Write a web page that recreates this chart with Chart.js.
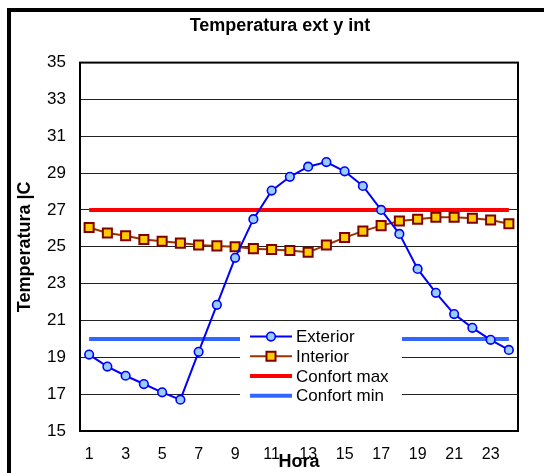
<!DOCTYPE html>
<html>
<head>
<meta charset="utf-8">
<script src="https://cdn.jsdelivr.net/npm/chart.js@4"></script>
<style>
  body { margin: 0; background: #fff; }
  #wrap { width: 544px; height: 473px; position: relative; }
</style>
</head>
<body>
<div id="wrap"><canvas id="myChart"></canvas></div>
<script>

const hours = ['1','2','3','4','5','6','7','8','9','10','11','12','13','14','15','16','17','18','19','20','21','22','23','24'];

const exterior = [19.15, 18.5, 18.0, 17.55, 17.1, 16.7, 19.3, 21.85, 24.4, 26.5, 28.05, 28.8,
                  29.35, 29.6, 29.1, 28.3, 27.0, 25.7, 23.8, 22.5, 21.35, 20.6, 19.95, 19.4];

const interior = [26.05, 25.75, 25.6, 25.4, 25.3, 25.2, 25.1, 25.05, 25.0, 24.9, 24.85, 24.8,
                  24.7, 25.1, 25.5, 25.85, 26.15, 26.4, 26.5, 26.6, 26.6, 26.55, 26.45, 26.25];

const confortMax = [27, 27, 27, 27, 27, 27, 27, 27, 27, 27, 27, 27,
                    27, 27, 27, 27, 27, 27, 27, 27, 27, 27, 27, 27];

const confortMin = [20, 20, 20, 20, 20, 20, 20, 20, 20, 20, 20, 20,
                    20, 20, 20, 20, 20, 20, 20, 20, 20, 20, 20, 20];

const FONT = "'Liberation Sans', Arial, sans-serif";


// outer frame + plot box
const framePlugin = {
  id: 'frame',
  beforeDraw(chart) {
    const ctx = chart.ctx;
    ctx.save();
    ctx.fillStyle = '#fff';
    ctx.fillRect(0, 0, chart.width, chart.height);
    ctx.strokeStyle = '#000';
    ctx.lineWidth = 4;
    ctx.strokeRect(9, 10, chart.width + 20, chart.height + 20);
    ctx.restore();
  },
  afterDraw(chart) {
    const a = chart.chartArea;
    const ctx = chart.ctx;
    ctx.save();
    ctx.strokeStyle = '#000';
    ctx.lineWidth = 2;
    ctx.strokeRect(a.left, a.top, a.right - a.left, a.bottom - a.top);
    ctx.restore();
  }
};


// legend sitting inside the plot, white box over the grid
const boxLegend = {
  id: 'boxLegend',
  afterDatasetsDraw(chart) {
    const ctx = chart.ctx;
    const a = chart.chartArea;
    const x0 = a.left + 160, y0 = a.top + 262;
    ctx.save();
    ctx.fillStyle = '#fff';
    ctx.fillRect(x0, y0, 162, 82);

    chart.data.datasets.forEach((ds, i) => {
      const y = y0 + 12 + i * 19.7;
      const lx1 = x0 + 10, lx2 = x0 + 52;
      const cx = (lx1 + lx2) / 2;
      ctx.strokeStyle = ds.borderColor;
      ctx.lineWidth = ds.borderWidth;
      ctx.beginPath();
      ctx.moveTo(lx1, y);
      ctx.lineTo(lx2, y);
      ctx.stroke();
      if (ds.pointRadius > 0) {
        ctx.fillStyle = ds.pointBackgroundColor;
        ctx.strokeStyle = ds.pointBorderColor;
        ctx.lineWidth = ds.pointBorderWidth;
        ctx.beginPath();
        if (ds.pointStyle === 'rect') {
          const s = ds.pointRadius * Math.SQRT1_2;
          ctx.rect(cx - s, y - s, 2 * s, 2 * s);
        } else {
          ctx.arc(cx, y, ds.pointRadius, 0, Math.PI * 2);
        }
        ctx.fill();
        ctx.stroke();
      }
      ctx.fillStyle = '#000';
      ctx.font = '17px ' + FONT;
      ctx.textBaseline = 'middle';
      ctx.textAlign = 'left';
      ctx.fillText(ds.label, lx2 + 4, y + 1);
    });
    ctx.restore();
  }
};


let dsets = [
  {
    label: 'Exterior',
    data: exterior,
    borderColor: '#0000FF',
    borderWidth: 2,
    pointStyle: 'circle',
    pointRadius: 4.3,
    pointBackgroundColor: '#99CCFF',
    pointBorderColor: '#0000FF',
    pointBorderWidth: 1.6,
    tension: 0
  },
  {
    label: 'Interior',
    data: interior,
    borderColor: '#993300',
    borderWidth: 2,
    pointStyle: 'rect',
    pointRadius: 6.4,
    pointBackgroundColor: '#FFCC00',
    pointBorderColor: '#800000',
    pointBorderWidth: 2,
    tension: 0
  },
  {
    label: 'Confort max',
    data: confortMax,
    borderColor: '#FF0000',
    borderWidth: 4,
    pointRadius: 0
  },
  {
    label: 'Confort min',
    data: confortMin,
    borderColor: '#3366FF',
    borderWidth: 4,
    pointRadius: 0
  }
];


new Chart(
  document.getElementById('myChart'),
  {
    type: 'line',
    data: {
      labels: hours,
      datasets: dsets
    },
    plugins: [framePlugin, boxLegend],
    options: {
      responsive: true,
      maintainAspectRatio: false,
      animation: false,
      layout: {
        // left padding wide so the title centres where the reference has it
        padding: { left: 42, right: 26, top: 0, bottom: 0 }
      },
      plugins: {
        legend: { display: false },
        tooltip: { enabled: false },
        title: {
          display: true,
          text: 'Temperatura ext y int',
          color: '#000',
          font: { family: FONT, size: 18, weight: 'bold' },
          padding: { top: 15, bottom: 26 }
        }
      },
      scales: {
        x: {
          type: 'category',
          offset: true,
          grid: { display: false, drawTicks: false },
          border: { display: false },
          ticks: {
            autoSkip: false,
            maxRotation: 0,
            padding: 14,
            color: '#000',
            font: { family: FONT, size: 16 },
            callback: function (val, index) {
              return index % 2 === 0 ? this.getLabelForValue(val) : '';
            }
          },
          title: {
            display: true,
            text: 'Hora',
            color: '#000',
            font: { family: FONT, size: 18, weight: 'bold' },
            padding: { top: 0, bottom: 0 }
          },
          afterFit: (scale) => { scale.height = 42; }
        },
        y: {
          min: 15,
          max: 35,
          grid: { color: '#222', lineWidth: 1, drawTicks: false },
          border: { display: false },
          ticks: {
            stepSize: 2,
            padding: 14,
            color: '#000',
            font: { family: FONT, size: 17 }
          },
          title: {
            display: true,
            text: 'Temperatura |C',
            color: '#000',
            font: { family: FONT, size: 18, weight: 'bold' },
            padding: { top: -28, bottom: 0 }
          },
          afterFit: (scale) => { scale.width = 38; }
        }
      }
    }
  }
);

</script>
</body>
</html>
